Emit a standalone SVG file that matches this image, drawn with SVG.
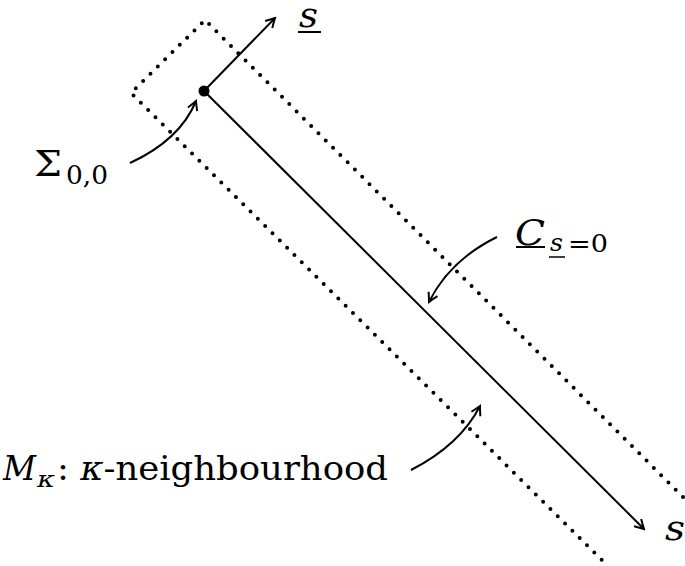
<svg xmlns="http://www.w3.org/2000/svg" width="685" height="566" viewBox="0 0 685 566">
<style>
.t{font-family:"DejaVu Serif","Liberation Serif",serif;fill:#000}
.i{font-style:italic}
.c{fill:none;stroke:#000;stroke-width:2}
.d{fill:none;stroke:#000;stroke-width:4;stroke-linecap:round;stroke-dasharray:0 10.3}
</style>
<defs>
<marker id="a" markerWidth="12" markerHeight="12" refX="10" refY="6" orient="auto" markerUnits="userSpaceOnUse">
<path d="M1,1 Q6,4 10,6 Q6,8 1,11" fill="none" stroke="#000" stroke-width="2"/>
</marker>
</defs>
<rect width="685" height="566" fill="#fff"/>
<g id="neighbourhood">
<path class="d" d="M683,497 L205,20 L131,93 L605,563"/>
</g>
<g id="connectors">
<line class="c" x1="204" y1="91" x2="275" y2="18" marker-end="url(#a)"/>
<line class="c" x1="204" y1="91" x2="644" y2="529" marker-end="url(#a)"/>
<path class="c" d="M130,163 Q180,140 196,101" marker-end="url(#a)"/>
<path class="c" d="M497,237 Q450,260 429,302" marker-end="url(#a)"/>
<path class="c" d="M411,470 Q460,445 480,406" marker-end="url(#a)"/>
</g>
<g id="origin"><circle cx="204" cy="91" r="5.5" fill="#000"/></g>
<g id="label-s-top">
<text class="t i" x="299" y="27" font-size="36" textLength="19" lengthAdjust="spacingAndGlyphs">s</text>
<line x1="298" y1="32" x2="321" y2="32" stroke="#000" stroke-width="2"/>
</g>
<g id="label-sigma">
<text class="t" x="34" y="176" font-size="36" textLength="28" lengthAdjust="spacingAndGlyphs">Σ</text>
<text class="t" x="66" y="184" font-size="26" textLength="42" lengthAdjust="spacingAndGlyphs">0,0</text>
</g>
<g id="label-C">
<text class="t i" x="515" y="245" font-size="36" textLength="30" lengthAdjust="spacingAndGlyphs">C</text>
<line x1="516" y1="247" x2="545" y2="247" stroke="#000" stroke-width="2"/>
<text class="t i" x="550" y="251" font-size="24" textLength="13" lengthAdjust="spacingAndGlyphs">s</text>
<line x1="549" y1="257" x2="565" y2="257" stroke="#000" stroke-width="1.5"/>
<text class="t" x="568" y="252" font-size="24" textLength="40" lengthAdjust="spacingAndGlyphs">=0</text>
</g>
<g id="label-M">
<text class="t i" x="3" y="480" font-size="34" textLength="33" lengthAdjust="spacingAndGlyphs">M</text>
<text class="t i" x="37" y="487" font-size="22" textLength="18" lengthAdjust="spacingAndGlyphs">κ</text>
<text class="t" x="57" y="480" font-size="34" textLength="331" lengthAdjust="spacingAndGlyphs">: <tspan class="i">κ</tspan>-neighbourhood</text>
</g>
<g id="label-s-bottom">
<text class="t i" x="665" y="540" font-size="36" textLength="20" lengthAdjust="spacingAndGlyphs">s</text>
</g>
</svg>
